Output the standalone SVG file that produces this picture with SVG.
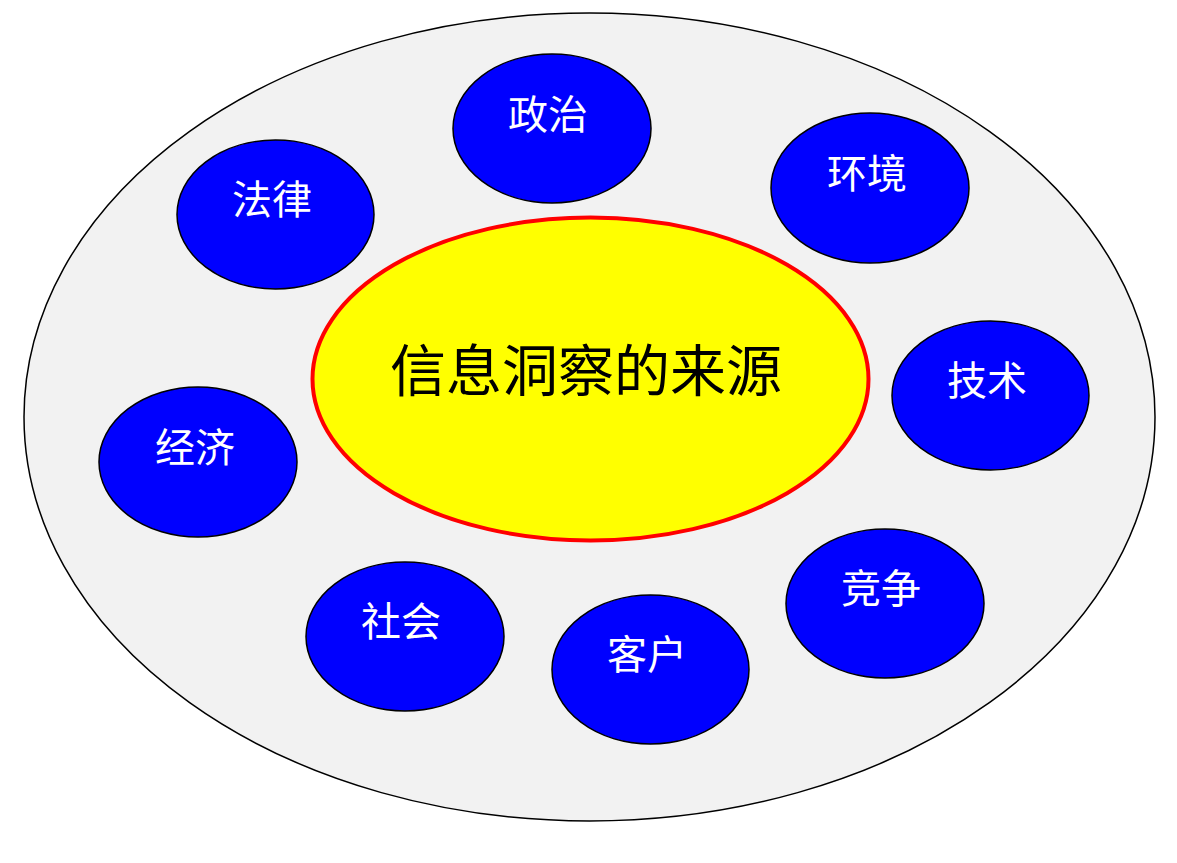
<svg xmlns="http://www.w3.org/2000/svg" width="1177" height="863" viewBox="0 0 1177 863">
<style>
.node{fill:#0000ff;stroke:#000;stroke-width:1.5}
.lbl{fill:#fff;font-family:"Noto Sans CJK SC","Noto Sans CJK JP",sans-serif;font-size:40px;text-anchor:middle;dominant-baseline:central}
.main{fill:#000;font-family:"Noto Sans CJK SC","Noto Sans CJK JP",sans-serif;font-size:56px;text-anchor:middle;dominant-baseline:central}
</style>
<rect width="1177" height="863" fill="#fff"/>
<g id="outer"><ellipse cx="589.5" cy="417" rx="565.5" ry="404" fill="#f2f2f2" stroke="#000" stroke-width="1.5"/></g>
<g id="center"><ellipse cx="590.5" cy="379" rx="278" ry="161.5" fill="#ffff00" stroke="#ff0000" stroke-width="4"/><text class="main" x="586" y="366">信息洞察的来源</text></g>
<g id="n-zhengzhi"><ellipse class="node" cx="552" cy="128.5" rx="99" ry="74.5"/><text class="lbl" x="548" y="112">政治</text></g>
<g id="n-falv"><ellipse class="node" cx="275.5" cy="214.5" rx="98.5" ry="74.5"/><text class="lbl" x="272" y="197">法律</text></g>
<g id="n-huanjing"><ellipse class="node" cx="870" cy="188" rx="99" ry="75"/><text class="lbl" x="867" y="171">环境</text></g>
<g id="n-jishu"><ellipse class="node" cx="990.5" cy="395.5" rx="98.5" ry="74.5"/><text class="lbl" x="987" y="378">技术</text></g>
<g id="n-jingji"><ellipse class="node" cx="198" cy="462" rx="99" ry="75"/><text class="lbl" x="195" y="445">经济</text></g>
<g id="n-shehui"><ellipse class="node" cx="405" cy="636.5" rx="99" ry="74.5"/><text class="lbl" x="401" y="619">社会</text></g>
<g id="n-kehu"><ellipse class="node" cx="650.5" cy="669.5" rx="98.5" ry="74.5"/><text class="lbl" x="647" y="652">客户</text></g>
<g id="n-jingzheng"><ellipse class="node" cx="885" cy="603.5" rx="99" ry="74.5"/><text class="lbl" x="881" y="586">竞争</text></g>
<g id="connectors"></g>
</svg>
